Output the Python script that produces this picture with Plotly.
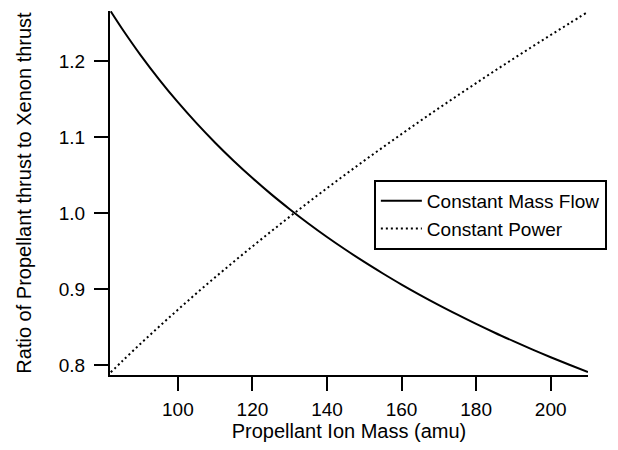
import plotly.graph_objects as go

# Propellant ion mass (amu)
mass = [82, 85, 90, 95, 100, 105, 110, 115, 120, 125, 130, 135, 140, 145, 150,
        155, 160, 165, 170, 175, 180, 185, 190, 195, 200, 205, 210]

# Ratio of propellant thrust to xenon thrust
const_mass_flow = [1.2653, 1.2428, 1.2078, 1.1756, 1.1458, 1.1182, 1.0925, 1.0685,
                   1.0460, 1.0248, 1.0050, 0.9862, 0.9684, 0.9516, 0.9356, 0.9204,
                   0.9058, 0.8920, 0.8788, 0.8662, 0.8540, 0.8424, 0.8313, 0.8205,
                   0.8102, 0.8003, 0.7907]
const_power = [0.7903, 0.8046, 0.8280, 0.8506, 0.8727, 0.8943, 0.9153, 0.9359,
               0.9560, 0.9757, 0.9951, 1.0140, 1.0326, 1.0509, 1.0689, 1.0865,
               1.1039, 1.1211, 1.1379, 1.1545, 1.1709, 1.1871, 1.2030, 1.2187,
               1.2342, 1.2495, 1.2647]

x_ticks = [100, 120, 140, 160, 180, 200]
y_ticks = [0.8, 0.9, 1.0, 1.1, 1.2]
y_tick_labels = ["0.8", "0.9", "1.0", "1.1", "1.2"]

FONT = "Liberation Sans, Arial, sans-serif"

fig = go.Figure()
fig.add_trace(go.Scatter(
    x=mass, y=const_mass_flow, mode="lines", name="Constant Mass Flow",
    line=dict(color="black", width=2, shape="spline"),
))
fig.add_trace(go.Scatter(
    x=mass, y=const_power, mode="lines", name="Constant Power",
    line=dict(color="black", width=2, dash="2px,3px", shape="spline"),
))

fig.update_layout(
    width=618, height=450,
    margin=dict(l=110, r=28, t=11, b=75),
    paper_bgcolor="white", plot_bgcolor="white",
    font=dict(family=FONT, size=19, color="black"),
    showlegend=True,
    legend=dict(
        x=0.552, y=0.536, xanchor="left", yanchor="top",
        bgcolor="white", bordercolor="black", borderwidth=2,
        font=dict(family=FONT, size=19, color="black"),
        tracegroupgap=0, itemwidth=41,
    ),
    xaxis=dict(
        range=[81.8, 210], showgrid=False, zeroline=False,
        showline=True, linecolor="black", linewidth=2,
        ticks="outside", ticklen=14, tickwidth=2, tickcolor="black",
        tickvals=x_ticks, ticklabelstandoff=2,
        tickfont=dict(family=FONT, size=19),
        title=dict(text="Propellant Ion Mass (amu)", font=dict(family=FONT, size=20), standoff=5),
    ),
    yaxis=dict(
        range=[0.7868, 1.2658], showgrid=False, zeroline=False,
        showline=True, linecolor="black", linewidth=2,
        ticks="outside", ticklen=14, tickwidth=2, tickcolor="black",
        tickvals=y_ticks, ticktext=y_tick_labels, ticklabelstandoff=5,
        tickfont=dict(family=FONT, size=19),
        title=dict(text="Ratio of Propellant thrust to Xenon thrust", font=dict(family=FONT, size=20), standoff=22),
    ),
)

fig.write_html("out.html")
